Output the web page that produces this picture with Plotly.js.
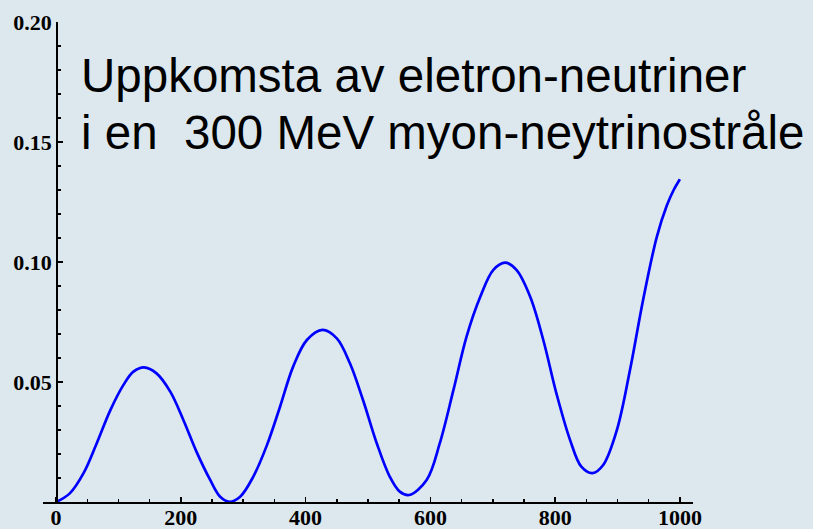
<!DOCTYPE html>
<html>
<head>
<meta charset="utf-8">
<script src="https://cdn.plot.ly/plotly-3.0.1.min.js"></script>
<style>html,body{margin:0;padding:0;background:#dde8ee;}#chart{width:813px;height:529px;}</style>
</head>
<body>
<div id="chart"></div>
<script>
// Baseline length (x) and appearance probability (y)
const xValues = [0, 22, 44, 65, 87, 108, 124, 141, 161, 183, 204, 225, 247, 263, 278, 295, 316, 338, 359, 380, 402, 427, 450, 471, 492, 514, 535, 551, 566, 594, 615, 637, 658, 680, 701, 720, 738, 760, 781, 802, 824, 842, 860, 877, 899, 920, 941, 963, 979, 990, 1000];
const yValues = [0, 0.0036, 0.012, 0.0244, 0.0383, 0.0488, 0.0543, 0.0561, 0.0536, 0.046, 0.0342, 0.021, 0.0092, 0.0022, 0.0001, 0.0022, 0.0105, 0.0237, 0.0397, 0.0564, 0.0675, 0.0717, 0.0682, 0.0578, 0.0425, 0.0245, 0.0105, 0.0043, 0.0029, 0.0092, 0.0244, 0.0467, 0.0689, 0.0855, 0.0967, 0.0997, 0.0967, 0.0855, 0.0675, 0.0453, 0.0258, 0.0147, 0.012, 0.0154, 0.03, 0.055, 0.0842, 0.1105, 0.1235, 0.1300, 0.1345];
const xTickVals = [0, 200, 400, 600, 800, 1000];
const xTickText = ["0", "200", "400", "600", "800", "1000"];
const yTickVals = [0.05, 0.10, 0.15, 0.20];
const yTickText = ["0.05", "0.10", "0.15", "0.20"];
const titleLines = ["Uppkomsta av eletron-neutriner", "i en&nbsp; 300 MeV myon-neytrinostråle"];

const tickFont = {family: "Liberation Serif, Times New Roman, serif", size: 22, color: "#000", weight: "bold"};
const titleFont = {family: "Liberation Sans, Arial, sans-serif", size: 47.5, color: "#000"};
const bg = "#dde8ee";

const trace = {
  x: xValues, y: yValues, type: "scatter", mode: "lines",
  line: {color: "#0000ff", width: 2.7, shape: "spline", smoothing: 1},
  hoverinfo: "skip"
};

const layout = {
  width: 813, height: 529,
  margin: {l: 43, r: 120, t: 22, b: 27, pad: 0},
  paper_bgcolor: bg, plot_bgcolor: bg,
  showlegend: false,
  xaxis: {
    range: [-21, 1021], showgrid: false, zeroline: false,
    showline: true, linecolor: "#000", linewidth: 2,
    tickmode: "array", tickvals: xTickVals, ticktext: xTickText,
    ticks: "inside", ticklen: 5, tickwidth: 1.5, tickcolor: "#000",
    ticklabelstandoff: -5,
    minor: {dtick: 50, tick0: 0, ticks: "inside", ticklen: 3, tickwidth: 1.5, tickcolor: "#000", showgrid: false},
    tickfont: tickFont, fixedrange: true
  },
  yaxis: {
    range: [0, 0.2], showgrid: false, zeroline: false,
    anchor: "free", position: 13.1 / 650,
    showline: true, linecolor: "#000", linewidth: 1.5,
    tickmode: "array", tickvals: yTickVals, ticktext: yTickText,
    ticks: "inside", ticklen: 5, tickwidth: 1.5, tickcolor: "#000",
    minor: {dtick: 0.01, tick0: 0, ticks: "inside", ticklen: 3, tickwidth: 1.5, tickcolor: "#000", showgrid: false},
    tickfont: tickFont, fixedrange: true
  },
  annotations: [
    {text: titleLines[0], xref: "paper", yref: "paper", x: (79 - 43) / 650, y: (502 - 75) / 480,
     xanchor: "left", yanchor: "middle", showarrow: false, align: "left", font: titleFont},
    {text: titleLines[1], xref: "paper", yref: "paper", x: (79 - 43) / 650, y: (502 - 132) / 480,
     xanchor: "left", yanchor: "middle", showarrow: false, align: "left", font: titleFont}
  ]
};

Plotly.newPlot("chart", [trace], layout, {staticPlot: true, displayModeBar: false});
</script>
</body>
</html>
